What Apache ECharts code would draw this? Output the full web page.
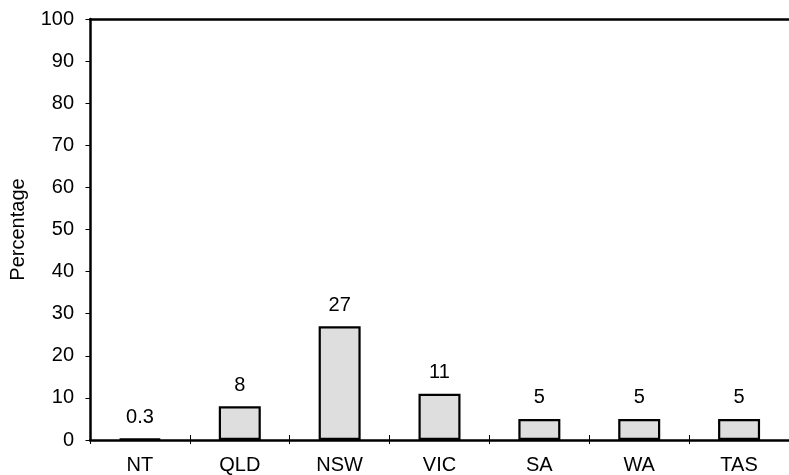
<!DOCTYPE html>
<html>
<head>
<meta charset="utf-8">
<script src="https://cdn.jsdelivr.net/npm/echarts@6/dist/echarts.min.js"></script>
<style>html,body{margin:0;padding:0;background:#fff}#c{width:789px;height:475px}</style>
</head>
<body>
<div id="c"></div>
<script>
const categories = ['NT', 'QLD', 'NSW', 'VIC', 'SA', 'WA', 'TAS'];
const values = [0.3, 8, 27, 11, 5, 5, 5];
const labels = ['0.3', '8', '27', '11', '5', '5', '5'];
const yTicks = [0, 10, 20, 30, 40, 50, 60, 70, 80, 90, 100];

const FONT = 'Liberation Sans, Arial, Helvetica, sans-serif';
const FS = 20;
const chart = echarts.init(document.getElementById('c'));
chart.setOption({
  animation: false,
  grid: { left: 89, right: -5, top: 19, bottom: 35, containLabel: false },
  xAxis: [
    {
      type: 'category', data: categories, position: 'bottom',
      axisLine: { lineStyle: { color: '#000', width: 2.5 } },
      axisTick: { show: true, inside: false, length: 4, lineStyle: { color: '#000', width: 1 } },
      axisLabel: { color: '#000', fontSize: FS, fontFamily: FONT, margin: 15 },
      splitLine: { show: false }
    },
    {
      type: 'category', data: categories, position: 'top',
      axisLine: { lineStyle: { color: '#000', width: 2.5 } },
      axisTick: { show: false }, axisLabel: { show: false }, splitLine: { show: false }
    },
    {
      type: 'category', data: categories, position: 'bottom',
      axisLine: { show: false },
      axisTick: { show: true, inside: true, length: 5, lineStyle: { color: '#000', width: 1 } },
      axisLabel: { show: false }, splitLine: { show: false }
    }
  ],
  yAxis: {
    type: 'value', min: yTicks[0], max: yTicks[yTicks.length - 1], interval: 10,
    name: 'Percentage', nameLocation: 'middle', nameGap: 62, nameRotate: 90,
    nameTextStyle: { color: '#000', fontSize: FS, fontFamily: FONT },
    axisLine: { show: true, lineStyle: { color: '#000', width: 2.5 } },
    axisTick: { show: true, inside: false, length: 4.5, lineStyle: { color: '#000', width: 1 } },
    axisLabel: { color: '#000', fontSize: FS, fontFamily: FONT, margin: 16 },
    splitLine: { show: false }
  },
  series: [{
    type: 'bar', xAxisIndex: 0, data: values, barWidth: 42,
    itemStyle: { color: '#dedede', borderColor: '#000', borderWidth: 2.2 },
    label: {
      show: true, position: 'top', distance: 11, color: '#000', fontSize: FS, fontFamily: FONT,
      formatter: p => labels[p.dataIndex]
    }
  }]
});
</script>
</body>
</html>
